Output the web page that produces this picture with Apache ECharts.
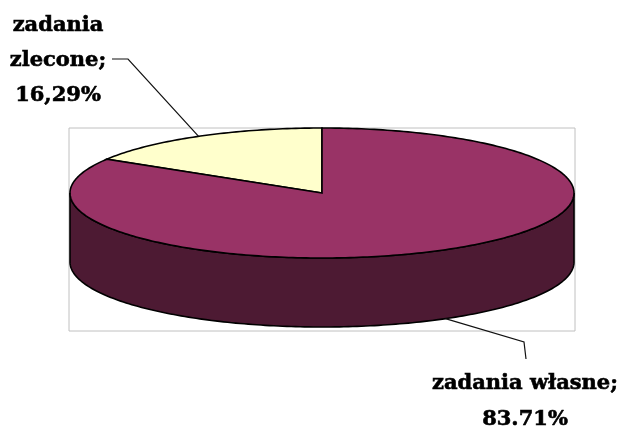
<!DOCTYPE html>
<html>
<head>
<meta charset="utf-8">
<style>
  html, body { margin: 0; padding: 0; background: #fff; }
  #chart { width: 620px; height: 428px; }
</style>
<script src="https://cdn.jsdelivr.net/npm/echarts@6/dist/echarts.min.js"></script>
</head>
<body>
<div id="chart"></div>
<script>
const categories = ["zadania zlecone", "zadania własne"];
const values = [16.29, 83.71];
const sliceLabels = ["zadania\nzlecone;\n16,29%", "zadania własne;\n83.71%"];
const sliceColors = ["#ffffcc", "#993366"];
const sideColors = ["#4d4d33", "#4d1a33"];

// pie disc geometry
const cx = 322, cy = 193, rx = 252, ry = 65, depth = 69;
const total = values.reduce((a, b) => a + b, 0);

// leader lines: elbow point, end point and text centre per slice
const leaderElbow = [[128, 59], [524, 342]];
const leaderEnd = [[112, 59], [526, 359]];
const labelPos = [[58, 61], [525, 402]];
const labelHeight = [35, 36];

const point = (deg, dy) => {
  const a = (deg * Math.PI) / 180;
  return [cx - rx * Math.sin(a), cy - ry * Math.cos(a) + dy];
};

const arc = (from, to, dy) => {
  const pts = [];
  const n = Math.max(2, Math.ceil(Math.abs(to - from)));
  for (let i = 0; i <= n; i++) pts.push(point(from + ((to - from) * i) / n, dy));
  return pts;
};

// slices run counter-clockwise from 12 o'clock
const renderSlice = (params, api) => {
  const i = params.dataIndex;
  const before = values.slice(0, i).reduce((a, b) => a + b, 0);
  const start = (before / total) * 360;
  const end = start + (api.value(1) / total) * 360;
  const mid = (start + end) / 2;
  const children = [];

  // visible side wall is the front half of the ellipse only
  const sideFrom = Math.max(start, 90);
  const sideTo = Math.min(end, 270);
  if (sideTo > sideFrom) {
    children.push({
      type: "polygon",
      shape: { points: arc(sideFrom, sideTo, 0).concat(arc(sideTo, sideFrom, depth)) },
      style: { fill: sideColors[i], stroke: "#000", lineWidth: 1.6 },
    });
  }

  children.push({
    type: "polygon",
    shape: { points: [[cx, cy]].concat(arc(start, end, 0)) },
    style: { fill: sliceColors[i], stroke: "#000", lineWidth: 1.6 },
  });

  const front = mid > 90 && mid < 270;
  children.push({
    type: "polyline",
    shape: { points: [point(mid, front ? depth : 0), leaderElbow[i], leaderEnd[i]] },
    style: { fill: null, stroke: "#111", lineWidth: 1.2 },
  });

  children.push({
    type: "text",
    x: labelPos[i][0],
    y: labelPos[i][1],
    style: {
      text: sliceLabels[i],
      fill: "#000",
      stroke: "#000",
      lineWidth: 0.6,
      font: 'bold 21px "DejaVu Serif"',
      lineHeight: labelHeight[i],
      align: "center",
      verticalAlign: "middle",
    },
  });

  return { type: "group", children };
};

const chart = echarts.init(document.getElementById("chart"));
chart.setOption({
  animation: false,
  backgroundColor: "#fff",
  tooltip: { show: false },
  grid: {
    show: true,
    left: 69,
    top: 128,
    width: 506,
    height: 203,
    borderColor: "#c0c0c0",
    borderWidth: 1,
  },
  xAxis: { show: false },
  yAxis: { show: false },
  series: [
    {
      type: "custom",
      coordinateSystem: "none",
      silent: true,
      renderItem: renderSlice,
      data: categories.map((name, i) => ({ name, value: [i, values[i]] })),
    },
  ],
});
</script>
</body>
</html>
